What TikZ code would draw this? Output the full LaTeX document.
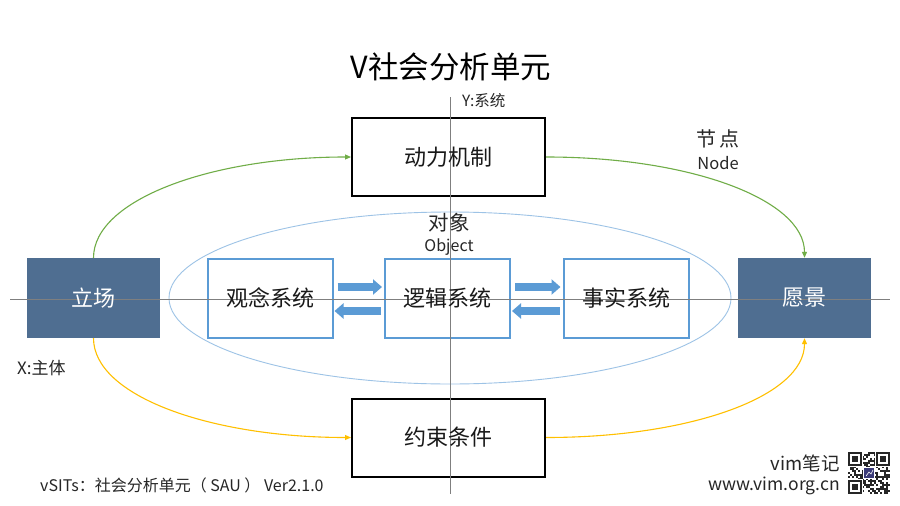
\documentclass[tikz,border=0pt]{standalone}
\usepackage{fontspec}
\setmainfont{Noto Sans CJK SC}
\usetikzlibrary{arrows.meta}
\definecolor{steel}{HTML}{4F6E91}
\definecolor{sysblue}{HTML}{5B9BD5}
\definecolor{ellblue}{HTML}{9DC3E6}
\definecolor{grn}{HTML}{70AD47}
\definecolor{gold}{HTML}{FFC000}
\definecolor{axisgray}{HTML}{7F7F7F}
\definecolor{qrnavy}{HTML}{3A3A78}
\begin{document}
\begin{tikzpicture}[x=1pt,y=-1pt,
  fsz/.style={font=\fontsize{#1}{#1}\selectfont},
  mechbox/.style={draw=black,line width=2pt,fill=white,minimum width=193pt,minimum height=78pt,inner sep=0pt},
  endbox/.style={fill=steel,minimum width=133pt,minimum height=80pt,inner sep=0pt},
  sysbox/.style={draw=sysblue,line width=2pt,fill=white,minimum width=125pt,minimum height=79pt,inner sep=0pt},
  boxtext/.style={fsz=22,inner sep=0pt,text=black!90},
  lbl/.style={inner sep=0pt,text=black!85},
  flow/.style={line width=1.1pt,-{Triangle[length=6pt,width=5pt]}},
  blockarrow/.style={draw=sysblue,line width=8.5pt,-{Triangle[length=9pt,width=15pt]}}
]
\useasboundingbox (0,0) rectangle (900,506);
\fill[white] (0,0) rectangle (900,506);
% axes
\coordinate (yt) at (450,97);
\coordinate (yb) at (450,494);
\coordinate (xl) at (10,299);
\coordinate (xr) at (890,299);
% ellipse
\draw[ellblue,line width=0.9pt] (450,298) ellipse [x radius=281pt,y radius=86pt];
% boxes
\node[mechbox] (dong) at (448.5,157) {};
\node[mechbox] (yue) at (448.5,437.5) {};
\node[endbox] (li) at (93.5,298) {};
\node[endbox] (yuan) at (804.5,298) {};
\node[sysbox] (guan) at (270,298) {};
\node[sysbox] (luo) at (447.5,298) {};
\node[sysbox] (shi) at (626,298) {};
% axes drawn over boxes
\draw[axisgray,line width=0.9pt] (yt) -- (yb);
\draw[axisgray,line width=0.9pt] (xl) -- (xr);
% box texts above axes
\node[boxtext] at (dong) {动力机制};
\node[boxtext] at (yue) {约束条件};
\node[boxtext,text=white] at (li) {立场};
\node[boxtext,text=white] at (yuan) {愿景};
\node[boxtext] at (guan) {观念系统};
\node[boxtext] at (luo) {逻辑系统};
\node[boxtext] at (shi) {事实系统};
% block arrows
\draw[blockarrow] ([xshift=4pt,yshift=11pt]guan.east) -- ([xshift=-2pt,yshift=11pt]luo.west);
\draw[blockarrow] ([xshift=-3pt,yshift=-13pt]luo.west) -- ([xshift=1pt,yshift=-13pt]guan.east);
\draw[blockarrow] ([xshift=4pt,yshift=11pt]luo.east) -- ([xshift=-2pt,yshift=11pt]shi.west);
\draw[blockarrow] ([xshift=-3pt,yshift=-13pt]shi.west) -- ([xshift=1pt,yshift=-13pt]luo.east);
% flows
\draw[flow,grn] (li.north) .. controls ++(0,-58) and ++(-140,0) .. (dong.west);
\draw[flow,grn] (dong.east) .. controls ++(145,0) and ++(0,-58) .. (yuan.north);
\draw[flow,gold] (li.south) .. controls ++(0,58) and ++(-140,0) .. (yue.west);
\draw[flow,gold] (yue.east) .. controls ++(145,0) and ++(0,58) .. (yuan.south);
% labels
\node[fsz=30.5,inner sep=0pt] (title) at (451,67) {V社会分析单元};
\node[fsz=15.5,lbl,anchor=west] (ylab) at (462,101) {Y:系统};
\node[fsz=20.5,lbl] (dx) at (449,223) {对象};
\node[fsz=16,lbl] (obj) at (449,247) {Object};
\node[fsz=20,lbl] (jd) at (718,139) {节\,点};
\node[fsz=16.5,lbl] (nd) at (718,163) {Node};
\node[fsz=17,lbl,anchor=west] (xlab) at (17,368) {X:主体};
\node[fsz=16,lbl,anchor=west] (ver) at (40,485) {vSITs：社会分析单元（ SAU ） Ver2.1.0};
\node[fsz=18.5,lbl,anchor=east] (vim) at (840,463) {vim笔记};
\node[fsz=17.5,lbl,anchor=east] (url) at (840,486) {www.vim.org.cn};
% QR code
\begin{scope}[shift={(848,452)}]
  \fill[white] (0,0) rectangle (42,42);
  \pgfmathsetseed{7}
  \foreach \i in {0,...,20}{
    \foreach \j in {0,...,20}{
      \pgfmathsetmacro{\r}{rnd}
      \ifdim\r pt<0.5pt \fill[black!85] (2*\i,2*\j) rectangle ++(2,2);\fi
    }
  }
  \foreach \p in {(0,0),(28,0),(0,28)}{
    \fill[white] \p ++(-1,-1) rectangle ++(16,16);
    \fill[black!85] \p rectangle ++(14,14);
    \fill[white] \p ++(2,2) rectangle ++(10,10);
    \fill[black!85] \p ++(4,4) rectangle ++(6,6);
  }
  \fill[white] (15,15) rectangle (27,27);
  \fill[qrnavy] (16,16) rectangle (26,26);
  \draw[white,line width=0.6pt] (18,24) -- (21,20) -- (23,22) -- (25,18);
\end{scope}
\end{tikzpicture}
\end{document}
